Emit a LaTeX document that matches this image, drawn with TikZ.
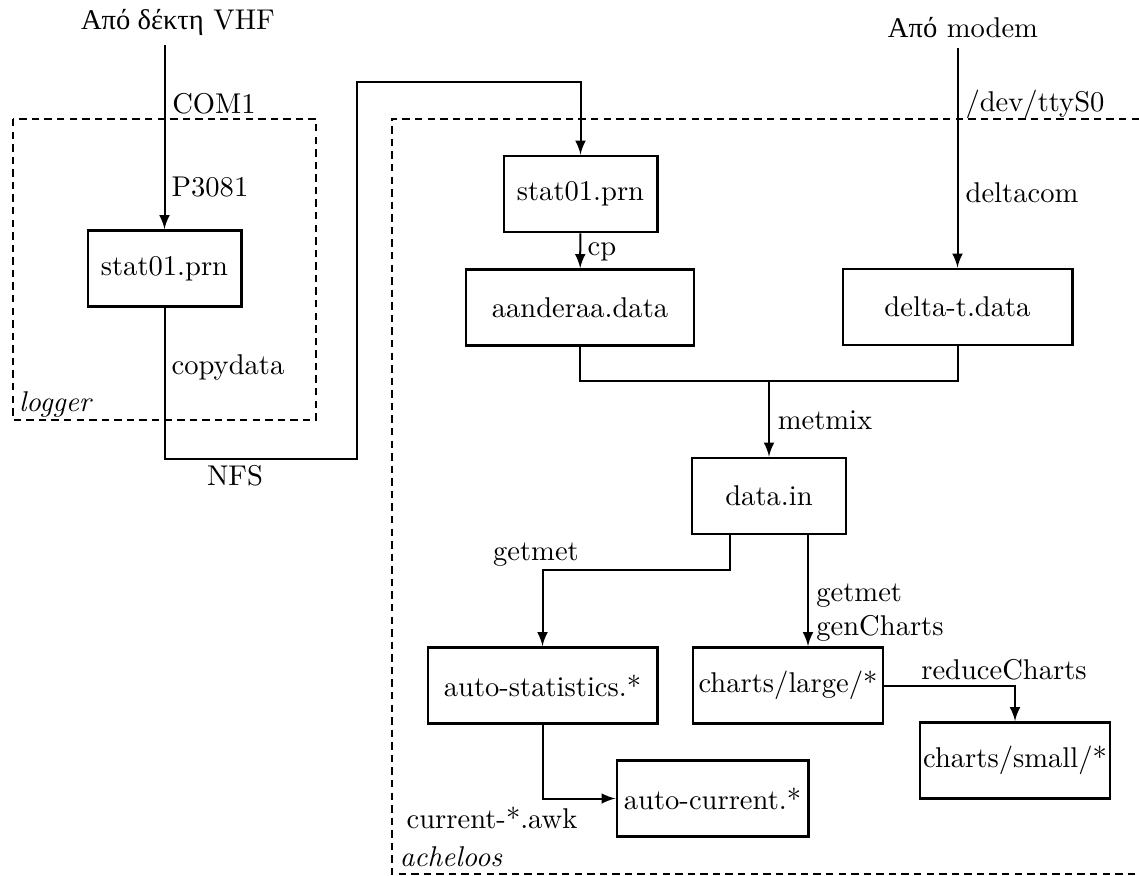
\documentclass[tikz,border=0pt]{standalone}
\usepackage{fontspec}
\newfontfamily\grfont{Liberation Serif}
\usetikzlibrary{arrows,positioning,calc}

\tikzset{
  box/.style = {draw, line width=1pt, minimum height=26.6pt, inner sep=0pt},
  lbl/.style = {inner sep=0pt},
  flow/.style = {->, >=latex, line width=0.7pt},
  wire/.style = {line width=0.7pt},
  zone/.style = {line width=0.7pt, dash pattern=on 2.6pt off 1.8pt}
}

\begin{document}
\begin{tikzpicture}[x = .35pt, y = -.35pt]
\useasboundingbox (0,0) rectangle (1139,876);

\draw[zone] (13,119) rectangle (316,420);
\draw[zone] (1139,119) -- (392,119) -- (392,874) -- (1139,874);
\node[lbl, font=\itshape] (logger) at (55,405) {logger};
\node[lbl, font=\itshape] (acheloos) at (451,857) {acheloos};

\node (vhf) at (178,22) {{\grfont Από δέκτη} VHF};
\node (modem) at (963,28) {{\grfont Από} modem};

\node[box, minimum width=53.6pt] (logstat) at (164.5,268.5) {stat01.prn};
\node[box, minimum width=53.6pt] (achstat) at (580.5,194) {stat01.prn};
\node[box, minimum width=79.8pt] (aanderaa) at (580,307.5) {aanderaa.data};
\node[box, minimum width=80.2pt] (delta) at (957.5,307) {delta-t.data};
\node[box, minimum width=53.9pt] (datain) at (769,496) {data.in};
\node[box, minimum width=80.2pt] (autostat) at (542.5,685.5) {auto-statistics.*};
\node[box, minimum width=66.5pt] (large) at (788,685.5) {charts/large/*};
\node[box, minimum width=66.5pt] (small) at (1015,760.5) {charts/small/*};
\node[box, minimum width=66.9pt] (autocur) at (712.5,798.5) {auto-current.*};

\coordinate (nfs) at (164,459);
\coordinate (bend) at (357,82);
\coordinate (mix) at (769,381);
\coordinate (gm) at (542.5,570);
\coordinate (gc) at ($(datain.south)+(39,0)$);

\draw[flow] (vhf.south -| logstat) -- (logstat);
\draw[flow] (modem.south -| delta) -- (delta);
\draw[flow] (logstat) -- (logstat |- nfs) -| (bend) -| (achstat);
\draw[flow] (achstat) -- (aanderaa);
\draw[wire] (aanderaa) |- (mix) -| (delta);
\draw[flow] (mix) -- (datain);
\draw[flow] ($(datain.south)+(-39,0)$) |- (gm) -- (autostat);
\draw[flow] (gc) -- (gc |- large.north);
\draw[flow] (large) -| (small);
\draw[flow] (autostat) |- (autocur);

\node[lbl] (com) at (214,104) {COM1};
\node[lbl] (p3081) at (210,187) {P3081};
\node[lbl] (copydata) at (228,368) {copydata};
\node[lbl] (nfslbl) at (235,476) {NFS};
\node[lbl] (cp) at (602,252) {cp};
\node[lbl] (tty) at (1035,104) {/dev/ttyS0};
\node[lbl] (deltacom) at (1022,193) {deltacom};
\node[lbl] (metmix) at (825,420) {metmix};
\node[lbl] (getmet) at (536,555) {getmet};
\node[lbl, align=left] (gencharts) at (880,613) {getmet\\genCharts};
\node[lbl] (reduce) at (1004,670) {reduceCharts};
\node[lbl] (awk) at (492,818) {current-*.awk};

\end{tikzpicture}
\end{document}
